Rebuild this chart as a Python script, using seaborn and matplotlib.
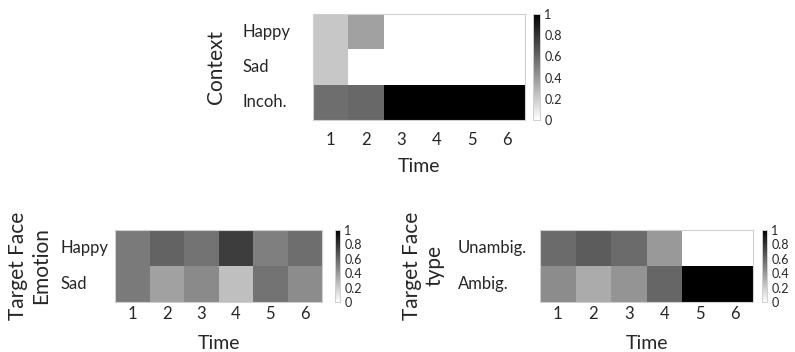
import numpy as np
import pandas as pd
import matplotlib.pyplot as plt
import seaborn as sns

# values (0 = white, 1 = black)
time_labels = ['1', '2', '3', '4', '5', '6']

context_rows = ['Happy', 'Sad', 'Incoh.']
context_happy = [0.22, 0.37, 0.0, 0.0, 0.0, 0.0]
context_sad = [0.22, 0.0, 0.0, 0.0, 0.0, 0.0]
context_incoh = [0.57, 0.59, 1.0, 1.0, 1.0, 1.0]

emotion_rows = ['Happy', 'Sad']
emotion_happy = [0.52, 0.61, 0.55, 0.76, 0.50, 0.57]
emotion_sad = [0.52, 0.37, 0.46, 0.25, 0.55, 0.45]

type_rows = ['Unambig.', 'Ambig.']
type_unambig = [0.58, 0.64, 0.58, 0.40, 0.0, 0.0]
type_ambig = [0.45, 0.33, 0.42, 0.60, 1.0, 1.0]

sns.set_style('white')
plt.rcParams['font.family'] = ['Lato', 'DejaVu Sans']

W, H = 795, 352
fig = plt.figure(figsize=(W / 100, H / 100), dpi=100)


def px_axes(x0, y0, x1, y1):
    return fig.add_axes([x0 / W, 1 - y1 / H, (x1 - x0) / W, (y1 - y0) / H])


def draw(ax, cax, data, rows, ylabel, label_x, pad, xpad, xlabelpad):
    df = pd.DataFrame(data, index=rows, columns=time_labels)
    sns.heatmap(df, ax=ax, cbar_ax=cax, cmap='gray_r', vmin=0, vmax=1,
                cbar_kws={'ticks': [0, 0.2, 0.4, 0.6, 0.8, 1]})
    ax.set_yticklabels(rows, rotation=0, ha='left', fontsize=12)
    ax.tick_params(axis='y', pad=pad, length=0)
    ax.tick_params(axis='x', labelsize=12, length=0, pad=xpad)
    ax.set_xlabel('Time', fontsize=14, labelpad=xlabelpad)
    ax.set_ylabel(ylabel, fontsize=15, linespacing=1.15)
    ax.yaxis.set_label_coords(label_x, 0.5)
    for s in ax.spines.values():
        s.set_visible(True)
        s.set_color('#d0d0d0')
        s.set_linewidth(0.8)
    cax.tick_params(labelsize=9, length=0, pad=3)
    cax.set_yticklabels(['0', '0.2', '0.4', '0.6', '0.8', '1'])
    for s in cax.spines.values():
        s.set_visible(True)
        s.set_color('#d0d0d0')
        s.set_linewidth(0.6)


ax1 = px_axes(313, 14, 525, 120)
cax1 = px_axes(533, 14, 540, 120)
draw(ax1, cax1, [context_happy, context_sad, context_incoh], context_rows,
     'Context', -0.41, 51, 9, 7)

ax2 = px_axes(115, 230, 322, 302)
cax2 = px_axes(335, 230, 340, 302)
draw(ax2, cax2, [emotion_happy, emotion_sad], emotion_rows,
     'Target Face\nEmotion', -0.31, 39, 3, 9)

ax3 = px_axes(540, 230, 753, 302)
cax3 = px_axes(762, 230, 767, 302)
draw(ax3, cax3, [type_unambig, type_ambig], type_rows,
     'Target Face\ntype', -0.45, 59, 3, 9)

fig.savefig('out.png', dpi=100)
